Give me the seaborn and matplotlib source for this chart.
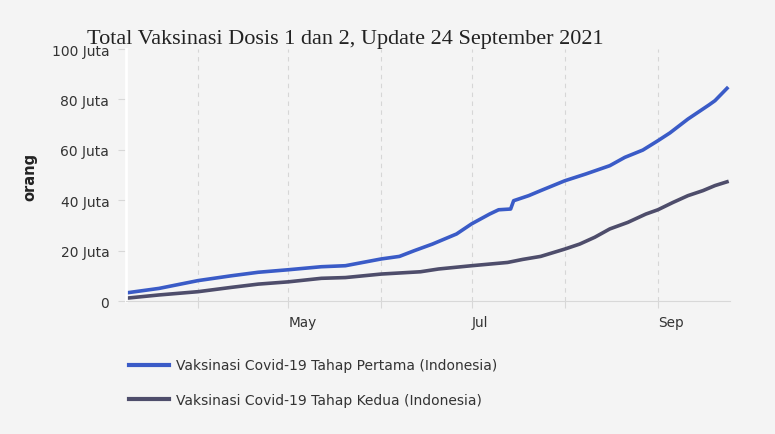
"""
Total vaksinasi Covid-19 dosis 1 dan 2 di Indonesia, update 24 September 2021
"""

# import section
import pandas as pd
import seaborn as sns
import matplotlib.pyplot as plt
import matplotlib.transforms as mtrans
from matplotlib.lines import Line2D

# data (juta orang)
DATES_1 = ['2021-03-08', '2021-03-19', '2021-04-01', '2021-04-12', '2021-04-21',
           '2021-05-01', '2021-05-12', '2021-05-20', '2021-06-01', '2021-06-07',
           '2021-06-12', '2021-06-18', '2021-06-26', '2021-07-01', '2021-07-07',
           '2021-07-10', '2021-07-14', '2021-07-15', '2021-07-20', '2021-07-24',
           '2021-08-01', '2021-08-08', '2021-08-16', '2021-08-21', '2021-08-27',
           '2021-09-01', '2021-09-05', '2021-09-11', '2021-09-18', '2021-09-20',
           '2021-09-24']
DOSIS_1 = [3.2, 5.0, 8.1, 10.0, 11.4,
           12.4, 13.6, 14.0, 16.7, 17.7,
           20.0, 22.6, 26.6, 30.6, 34.5,
           36.2, 36.5, 39.8, 41.8, 43.8,
           47.7, 50.4, 53.7, 57.0, 59.9,
           63.6, 66.7, 72.2, 77.8, 79.5,
           84.4]

DATES_2 = ['2021-03-08', '2021-03-19', '2021-04-01', '2021-04-12', '2021-04-21',
           '2021-05-01', '2021-05-12', '2021-05-20', '2021-06-01', '2021-06-14',
           '2021-06-20', '2021-07-01', '2021-07-13', '2021-07-18', '2021-07-24',
           '2021-08-01', '2021-08-06', '2021-08-11', '2021-08-16', '2021-08-22',
           '2021-08-28', '2021-09-01', '2021-09-06', '2021-09-11', '2021-09-16',
           '2021-09-20', '2021-09-24']
DOSIS_2 = [1.1, 2.4, 3.7, 5.4, 6.7,
           7.6, 9.0, 9.3, 10.7, 11.6,
           12.7, 14.0, 15.3, 16.5, 17.7,
           20.6, 22.6, 25.3, 28.6, 31.2,
           34.5, 36.2, 39.1, 41.8, 43.8,
           45.8, 47.3]

LABEL_1 = 'Vaksinasi Covid-19 Tahap Pertama (Indonesia)'
LABEL_2 = 'Vaksinasi Covid-19 Tahap Kedua (Indonesia)'
MONTHS = ['2021-04-01', '2021-05-01', '2021-06-01', '2021-07-01', '2021-08-01', '2021-09-01']
MONTH_LABELS = ['', 'May', '', 'Jul', '', 'Sep']
Y_TICKS = [0, 20, 40, 60, 80, 100]
Y_LABELS = ['0', '20 Juta', '40 Juta', '60 Juta', '80 Juta', '100 Juta']

df = pd.concat([
    pd.DataFrame({'tanggal': pd.to_datetime(DATES_1), 'orang': DOSIS_1, 'seri': LABEL_1}),
    pd.DataFrame({'tanggal': pd.to_datetime(DATES_2), 'orang': DOSIS_2, 'seri': LABEL_2}),
])

BLUE, DARK = '#3a5bc7', '#4e4d6b'
BG = '#f4f4f4'

# set plot dimensions
X_PIXELS, Y_PIXELS, DPI = 775, 435, 100
fig = plt.figure(figsize=(X_PIXELS / DPI, Y_PIXELS / DPI), dpi=DPI, facecolor=BG)
ax = fig.add_axes([126 / 775, 1 - 302 / 435, (730 - 126) / 775, (302 - 50) / 435])
ax.set_facecolor(BG)

sns.lineplot(data=df, x='tanggal', y='orang', hue='seri',
             palette={LABEL_1: BLUE, LABEL_2: DARK},
             linewidth=2.6, legend=False, ax=ax)

ax.set_xlim(pd.Timestamp('2021-03-08'), pd.Timestamp('2021-09-25'))
ax.set_ylim(0, 100)

# x axis: month starts, labels only on alternate months
ax.set_xticks(pd.to_datetime(MONTHS))
ax.set_xticklabels(MONTH_LABELS, ha='left', fontsize=9.8, color='#333333')
offset = mtrans.ScaledTranslation(4 / DPI, 0, fig.dpi_scale_trans)
for lbl in ax.get_xticklabels():
    lbl.set_transform(lbl.get_transform() + offset)
ax.tick_params(axis='x', length=5, color='#d8d8d8', pad=5)
ax.grid(axis='x', color='#d6d6d6', linestyle=(0, (4, 4)), linewidth=0.8)

ax.set_yticks(Y_TICKS)
ax.set_yticklabels(Y_LABELS, fontsize=10, color='#333333')
ax.tick_params(axis='y', length=6, color='#d8d8d8', pad=6)

ax.set_xlabel('')
ax.set_ylabel('')
for side in ['top', 'right']:
    ax.spines[side].set_visible(False)
ax.spines['left'].set_color('white')
ax.spines['left'].set_linewidth(2)
ax.spines['bottom'].set_color('#d8d8d8')

fig.text(30 / 775, 1 - 177 / 435, 'orang', rotation=90, fontsize=10.5,
         fontweight='bold', ha='center', va='center', color='#222222')
fig.text(87 / 775, 1 - 44 / 435, 'Total Vaksinasi Dosis 1 dan 2, Update 24 September 2021',
         family='Liberation Serif', fontsize=16, color='#222222', va='baseline')

handles = [Line2D([], [], color=BLUE, linewidth=3), Line2D([], [], color=DARK, linewidth=3)]
fig.legend(handles, [LABEL_1, LABEL_2], loc='upper left',
           bbox_to_anchor=(116 / 775, 1 - 347 / 435), frameon=False,
           fontsize=10, handlelength=2.9, handletextpad=0.5, labelspacing=1.45,
           labelcolor='#333333')

plt.savefig('out.png', dpi=DPI, facecolor=BG)
